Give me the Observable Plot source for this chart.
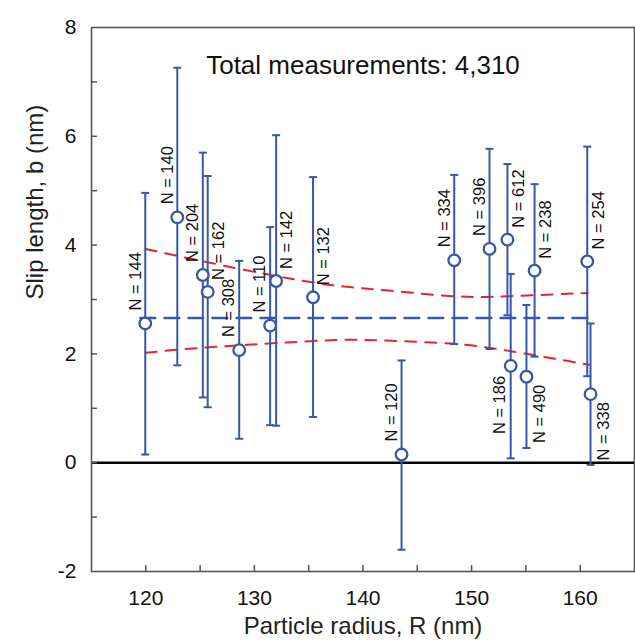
<!DOCTYPE html>
<html>
<head>
<meta charset="utf-8">
<script src="https://cdn.jsdelivr.net/npm/d3@7"></script>
<script src="https://cdn.jsdelivr.net/npm/@observablehq/plot@0.6"></script>
<style>
  html, body { margin: 0; padding: 0; background: white; }
  #chart svg { display: block; }
</style>
</head>
<body>
<div id="chart"></div>
<script>
// Particle radius R (nm), slip length b (nm), error bar bounds, sample counts
const radius = [119.95, 122.9, 125.25, 125.7, 128.6, 131.45, 132.0, 135.4, 143.55, 148.4, 151.65, 153.3, 153.6, 155.05, 155.8, 160.65, 160.95];
const slip   = [2.56, 4.51, 3.45, 3.14, 2.07, 2.52, 3.34, 3.04, 0.15, 3.72, 3.93, 4.10, 1.78, 1.58, 3.53, 3.70, 1.26];
const upperErr = [4.96, 7.26, 5.70, 5.27, 3.71, 4.33, 6.02, 5.25, 1.88, 5.29, 5.77, 5.49, 3.47, 2.90, 5.12, 5.81, 2.56];
const lowerErr = [0.15, 1.79, 1.20, 1.02, 0.44, 0.69, 0.68, 0.84, -1.60, 2.18, 2.09, 2.71, 0.08, 0.27, 1.95, 1.59, -0.04];
const counts = [144, 140, 204, 162, 308, 110, 142, 132, 120, 334, 396, 612, 186, 490, 238, 254, 338];
// label placement: a = above, b = below; l = left, r = right
const labelSide = ["al","al","al","ar","al","al","ar","ar","al","al","al","ar","bl","br","ar","ar","br"];

// mean slip length (blue dashed)
const meanR = [119.5, 161.0];
const meanB = [2.66, 2.66];

// confidence band (red dashed)
const bandUpR = [120, 125.3, 133.1, 138.2, 142.6, 148.4, 153.3, 160.7];
const bandUpB = [3.93, 3.70, 3.39, 3.24, 3.16, 3.06, 3.06, 3.12];
const bandLoR = [120, 125, 133, 138.5, 142.6, 148.1, 153.3, 160.8];
const bandLoB = [2.02, 2.11, 2.21, 2.26, 2.24, 2.19, 2.06, 1.80];

const yTickLabels = [-2, 0, 2, 4, 6, 8];
const yTickMarks = [-1, 0, 1, 2, 3, 4, 5, 6, 7];
const xTickLabels = [120, 130, 140, 150, 160];
const xTickMarks = [120, 125, 130, 135, 140, 145, 150, 155, 160];

const titleText = "Total measurements: 4,310";
const xTitle = "Particle radius, R (nm)";
const yTitle = "Slip length, b (nm)";

const pts = radius.map((R, i) => ({R, b: slip[i], hi: upperErr[i], lo: lowerErr[i], N: counts[i], side: labelSide[i]}));
const meanLine = meanR.map((R, i) => ({R, b: meanB[i]}));
const bandUp = bandUpR.map((R, i) => ({R, b: bandUpB[i]}));
const bandLo = bandLoR.map((R, i) => ({R, b: bandLoB[i]}));

const W = 635, H = 644;
const mL = 91, mR = 1, mT = 27, mB = 73;
const plotW = W - mL - mR, plotH = H - mT - mB;

const blue = "#3658a8";
const red = "#e8232a";
const axisGray = "#555";

const capSymbol = {
  draw(ctx, size) {
    const w = Math.sqrt(size / Math.PI);
    ctx.moveTo(-w, 0);
    ctx.lineTo(w, 0);
  }
};

const labelText = d => `N = ${d.N}`;
const labelCommon = {x: "R", y: "b", text: labelText, rotate: -90, fontSize: 16.5, fill: "#111", lineAnchor: "middle"};

const chart = Plot.plot({
  width: W,
  height: H,
  marginLeft: mL,
  marginRight: mR,
  marginTop: mT,
  marginBottom: mB,
  x: {domain: [115, 165]},
  y: {domain: [-2, 8]},
  style: {fontFamily: "'Liberation Sans', Arial, Helvetica, sans-serif", background: "white", color: "#111"},
  marks: [
    Plot.ruleY([0], {stroke: "black", strokeWidth: 2.6}),
    Plot.line(meanLine, {x: "R", y: "b", stroke: blue, strokeWidth: 2.3, strokeDasharray: "15,9"}),
    Plot.line(bandUp, {x: "R", y: "b", stroke: red, strokeWidth: 2, strokeDasharray: "11,9", curve: "natural"}),
    Plot.line(bandLo, {x: "R", y: "b", stroke: red, strokeWidth: 2, strokeDasharray: "11,9", curve: "natural"}),
    Plot.ruleX(pts, {x: "R", y1: "lo", y2: "hi", stroke: blue, strokeWidth: 2}),
    Plot.dot(pts, {x: "R", y: "hi", symbol: capSymbol, r: 4, stroke: blue, strokeWidth: 2, fill: "none"}),
    Plot.dot(pts, {x: "R", y: "lo", symbol: capSymbol, r: 4, stroke: blue, strokeWidth: 2, fill: "none"}),
    Plot.dot(pts, {x: "R", y: "b", r: 5.8, fill: "white", stroke: blue, strokeWidth: 2.3}),
    Plot.text(pts.filter(d => d.side === "al"), {...labelCommon, textAnchor: "start", dx: -10, dy: -13}),
    Plot.text(pts.filter(d => d.side === "ar"), {...labelCommon, textAnchor: "start", dx: 11, dy: -12}),
    Plot.text(pts.filter(d => d.side === "bl"), {...labelCommon, textAnchor: "end", dx: -11, dy: 10}),
    Plot.text(pts.filter(d => d.side === "br"), {...labelCommon, textAnchor: "end", dx: 13, dy: 8}),
    Plot.tickY(yTickMarks, {y: d => d, stroke: axisGray, strokeWidth: 1.5, insetRight: plotW - 6}),
    Plot.tickX(xTickMarks, {x: d => d, stroke: axisGray, strokeWidth: 1.5, insetTop: plotH - 6}),
    Plot.frame({stroke: axisGray, strokeWidth: 1.6}),
    Plot.axisY({ticks: yTickLabels, tickSize: 0, tickPadding: 15, fontSize: 21, tickFormat: d => `${d}`, label: null}),
    Plot.axisX({ticks: xTickLabels, tickSize: 0, tickPadding: 19, fontSize: 21, tickFormat: d => `${d}`, label: null}),
    Plot.text([titleText], {text: d => d, frameAnchor: "top", dy: 46, lineAnchor: "bottom", fontSize: 26, fill: "#111"}),
    Plot.text([yTitle], {text: d => d, frameAnchor: "left", dx: -56, rotate: -90, fontSize: 24, fill: "#222"}),
    Plot.text([xTitle], {text: d => d, frameAnchor: "bottom", dy: 62, fontSize: 24, fill: "#222"})
  ]
});

document.getElementById("chart").appendChild(chart);
</script>
</body>
</html>
